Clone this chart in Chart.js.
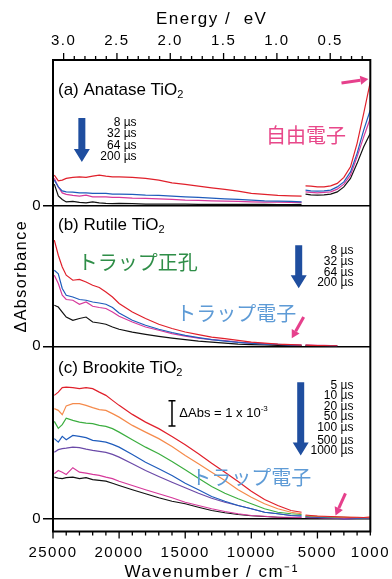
<!DOCTYPE html>
<html>
<head>
<meta charset="utf-8">
<script src="https://cdn.jsdelivr.net/npm/chart.js@4.4.1/dist/chart.umd.min.js"></script>
<style>
  body { margin: 0; background: #fff; }
  #wrap { width: 392px; height: 579px; position: relative; }
</style>
</head>
<body>
<div id="wrap"><canvas id="tasChart"></canvas></div>
<script>
// wavenumber grid, cm-1 (visible detector, then near-IR detector)
const wnVis = [24900, 24600, 24300, 24000, 23500, 23000, 22500, 22000, 21500, 21000, 20500, 20000, 19000, 18000, 17000, 16000, 15000, 14000, 13000, 12000, 11000, 10000, 9000, 8000, 7000, 6200];
const wnIR = [5900, 5500, 5000, 4500, 4000, 3500, 3000, 2500, 2000, 1500, 1000];
const EV = 8065.54; // cm-1 per eV

// ΔAbs x 1e-3
// (a) anatase: 8, 32, 64, 200 us
const anaTimes = ["8 µs", "32 µs", "64 µs", "200 µs"];
const ana8 = [1.24, 1.01, 1.04, 1.11, 1.15, 1.17, 1.15, 1.20, 1.24, 1.20, 1.17, 1.17, 1.15, 1.11, 1.04, 0.93, 0.87, 0.80, 0.73, 0.67, 0.60, 0.51, 0.47, 0.43, 0.41, 0.40];
const ana32 = [1.04, 0.77, 0.61, 0.57, 0.56, 0.53, 0.53, 0.51, 0.51, 0.51, 0.48, 0.48, 0.47, 0.44, 0.43, 0.40, 0.37, 0.35, 0.32, 0.29, 0.27, 0.24, 0.21, 0.20, 0.19, 0.17];
const ana64 = [1.11, 0.77, 0.53, 0.47, 0.43, 0.40, 0.44, 0.37, 0.37, 0.37, 0.35, 0.35, 0.32, 0.31, 0.29, 0.27, 0.24, 0.23, 0.21, 0.20, 0.19, 0.17, 0.16, 0.16, 0.15, 0.15];
const ana200 = [0.88, 0.41, 0.27, 0.17, 0.19, 0.15, 0.13, 0.17, 0.13, 0.11, 0.10, 0.11, 0.10, 0.08, 0.08, 0.08, 0.08, 0.07, 0.07, 0.07, 0.07, 0.07, 0.07, 0.06, 0.06, 0.07];
const ana8IR = [0.81, 0.80, 0.77, 0.77, 0.81, 0.91, 1.15, 1.57, 2.51, 3.71, 4.97];
const ana32IR = [0.64, 0.61, 0.60, 0.61, 0.64, 0.77, 0.97, 1.37, 2.11, 3.04, 3.84];
const ana64IR = [0.57, 0.55, 0.53, 0.55, 0.57, 0.68, 0.88, 1.24, 1.97, 2.77, 3.51];
const ana200IR = [0.48, 0.45, 0.44, 0.45, 0.48, 0.57, 0.77, 1.11, 1.71, 2.37, 2.91];

// (b) rutile: 8, 32, 64, 200 us
const rutTimes = ["8 µs", "32 µs", "64 µs", "200 µs"];
const rut8 = [4.24, 3.64, 3.17, 2.84, 2.64, 2.67, 2.57, 2.44, 2.35, 2.17, 1.97, 1.71, 1.37, 1.11, 0.88, 0.71, 0.57, 0.47, 0.37, 0.31, 0.24, 0.17, 0.13, 0.09, 0.07, 0.05];
const rut32 = [3.04, 2.90, 2.31, 2.04, 1.97, 1.87, 1.84, 1.77, 1.73, 1.68, 1.55, 1.33, 1.04, 0.84, 0.68, 0.55, 0.44, 0.35, 0.27, 0.21, 0.16, 0.12, 0.09, 0.08, 0.05, 0.04];
const rut64 = [2.84, 2.51, 2.04, 1.87, 1.84, 1.68, 1.77, 1.60, 1.55, 1.51, 1.37, 1.20, 0.97, 0.77, 0.64, 0.51, 0.41, 0.33, 0.27, 0.23, 0.17, 0.13, 0.11, 0.08, 0.07, 0.05];
const rut200 = [1.64, 1.57, 1.37, 1.17, 1.04, 1.11, 1.17, 0.97, 0.93, 0.88, 0.77, 0.68, 0.57, 0.48, 0.40, 0.33, 0.27, 0.21, 0.17, 0.13, 0.09, 0.07, 0.06, 0.04, 0.03, 0.03];
const rut8IR = [0.05, 0.04, 0.03, 0.03, 0.02, 0.02, null, null, null, null, null];
const rut32IR = [0.04, 0.03, 0.03, 0.02, 0.02, 0.01, null, null, null, null, null];
const rut64IR = [0.05, 0.05, 0.04, 0.04, 0.03, 0.03, null, null, null, null, null];
const rut200IR = [0.03, 0.02, 0.02, 0.02, 0.01, 0.01, null, null, null, null, null];

// (c) brookite: 5 ... 1000 us
const brkTimes = ["5 µs", "10 µs", "20 µs", "50 µs", "100 µs", "500 µs", "1000 µs"];
const brk5 = [4.92, 5.05, 5.23, 5.25, 5.23, 5.19, 5.23, 5.19, 5.05, 4.92, 4.72, 4.52, 4.16, 3.85, 3.59, 3.28, 2.95, 2.59, 2.21, 1.85, 1.48, 1.09, 0.76, 0.52, 0.32, 0.25];
const brk10 = [4.39, 4.32, 4.15, 4.50, 4.59, 4.59, 4.52, 4.43, 4.35, 4.32, 4.19, 4.05, 3.72, 3.45, 3.19, 2.88, 2.52, 2.19, 1.85, 1.52, 1.15, 0.85, 0.59, 0.39, 0.25, 0.19];
const brk20 = [3.88, 3.60, 3.75, 4.01, 3.92, 3.85, 3.81, 3.79, 3.72, 3.68, 3.59, 3.45, 3.15, 2.85, 2.59, 2.28, 1.95, 1.61, 1.28, 1.01, 0.79, 0.59, 0.39, 0.25, 0.19, 0.16];
const brk50 = [3.19, 3.05, 3.28, 3.15, 3.32, 3.28, 3.23, 3.12, 3.09, 3.05, 2.96, 2.85, 2.56, 2.25, 1.99, 1.72, 1.41, 1.15, 0.88, 0.69, 0.52, 0.39, 0.25, 0.19, 0.12, 0.11];
const brk100 = [2.65, 2.75, 2.79, 2.81, 2.85, 2.83, 2.77, 2.72, 2.68, 2.64, 2.56, 2.45, 2.19, 1.92, 1.68, 1.45, 1.23, 1.01, 0.81, 0.65, 0.52, 0.39, 0.25, 0.19, 0.12, 0.09];
const brk500 = [1.79, 1.92, 1.85, 1.76, 2.03, 1.85, 1.81, 1.76, 1.72, 1.65, 1.59, 1.49, 1.32, 1.15, 0.99, 0.83, 0.65, 0.52, 0.39, 0.28, 0.19, 0.12, 0.09, 0.05, 0.05, 0.04];
const brk1000 = [1.65, 1.61, 1.59, 1.63, 1.65, 1.59, 1.63, 1.55, 1.52, 1.49, 1.41, 1.32, 1.15, 0.99, 0.83, 0.69, 0.59, 0.45, 0.32, 0.23, 0.16, 0.11, 0.08, 0.05, 0.03, 0.01];
const brk5IR = [0.14, 0.12, 0.10, 0.09, 0.08, 0.07, 0.06, 0.05, 0.05, 0.04, 0.06];
const brk10IR = [0.12, 0.10, 0.09, 0.08, 0.07, 0.06, 0.05, 0.05, 0.04, 0.04, 0.05];
const brk20IR = [0.10, 0.09, 0.08, 0.07, 0.06, 0.05, 0.05, 0.04, 0.04, 0.03, 0.04];
const brk50IR = [0.08, 0.07, 0.06, 0.05, 0.05, 0.04, 0.03, 0.03, 0.02, 0.02, 0.03];
const brk100IR = [0.06, 0.05, 0.04, 0.03, 0.02, 0.00, -0.03, -0.02, 0.00, 0.01, 0.02];
const brk500IR = [0.04, 0.03, 0.03, 0.02, 0.02, 0.01, 0.00, 0.01, 0.01, 0.00, 0.01];
const brk1000IR = [0.02, 0.02, 0.01, 0.01, 0.01, 0.00, 0.00, 0.00, 0.00, 0.00, 0.01];

const RED = '#e0202b', ORANGE = '#f58a4b', GREEN = '#3cae40', BLUE = '#1f5cbc',
      PURPLE = '#6b4aa8', MAGENTA = '#d6399b', BLACK = '#111111';
const ARROW_BLUE = '#1f4e9f', PINK = '#e6408c';
const SANS = '"Liberation Sans", Arial, sans-serif';
const JP = '"Noto Sans CJK JP", sans-serif';

Chart.defaults.font.family = SANS;
Chart.defaults.color = '#000';

function series(vis, ir) {
    const pts = wnVis.map((w, i) => ({ x: w, y: vis[i] }));
    pts.push({ x: 6050, y: null }); // detector change: leave a gap
    ir.forEach((v, i) => pts.push({ x: wnIR[i], y: v }));
    return pts;
}

function line(axis, vis, ir, color) {
    return {
        data: series(vis, ir), yAxisID: axis, borderColor: color, borderWidth: 1.2,
        pointRadius: 0, tension: 0, spanGaps: false, fill: false
    };
}

const datasets = [
    line('yA', ana8, ana8IR, RED), line('yA', ana32, ana32IR, BLUE),
    line('yA', ana64, ana64IR, MAGENTA), line('yA', ana200, ana200IR, BLACK),
    line('yB', rut8, rut8IR, RED), line('yB', rut32, rut32IR, BLUE),
    line('yB', rut64, rut64IR, MAGENTA), line('yB', rut200, rut200IR, BLACK),
    line('yC', brk5, brk5IR, RED), line('yC', brk10, brk10IR, ORANGE),
    line('yC', brk20, brk20IR, GREEN), line('yC', brk50, brk50IR, BLUE),
    line('yC', brk100, brk100IR, PURPLE), line('yC', brk500, brk500IR, MAGENTA),
    line('yC', brk1000, brk1000IR, BLACK)
];

function panelAxis(min, max, weight, stackWeight, title) {
    return {
        type: 'linear', position: 'left', stack: 'tas', stackWeight: stackWeight, weight: weight,
        min: min, max: max,
        afterBuildTicks: s => { s.ticks = [{ value: 0 }]; },
        afterFit: s => { s.width = 53; },
        grid: { color: '#000', lineWidth: 1.5, tickLength: 10 },
        border: { display: false },
        ticks: { padding: 1, font: { size: 15 }, callback: v => String(v) },
        title: title ? { display: true, text: title, font: { size: 16 }, padding: { top: 12, bottom: 0 } } : { display: false }
    };
}

// helpers for the drawn notes
function txt(ctx, s, x, y, size, color, align, family) {
    ctx.font = size + 'px ' + (family || SANS);
    ctx.fillStyle = color;
    ctx.textAlign = align || 'left';
    ctx.textBaseline = 'middle';
    ctx.fillText(s, x, y);
    return ctx.measureText(s).width;
}

function downArrow(ctx, x, y1, y2) {
    const sw = 3.5, hw = 8, hl = 13;
    ctx.fillStyle = ARROW_BLUE;
    ctx.beginPath();
    ctx.moveTo(x - sw, y1); ctx.lineTo(x + sw, y1); ctx.lineTo(x + sw, y2 - hl);
    ctx.lineTo(x + hw, y2 - hl); ctx.lineTo(x, y2); ctx.lineTo(x - hw, y2 - hl);
    ctx.lineTo(x - sw, y2 - hl); ctx.closePath(); ctx.fill();
}

function pinkArrow(ctx, x1, y1, x2, y2) {
    const a = Math.atan2(y2 - y1, x2 - x1), hl = 8, hw = 4.5;
    const bx = x2 - hl * Math.cos(a), by = y2 - hl * Math.sin(a);
    ctx.strokeStyle = PINK; ctx.fillStyle = PINK; ctx.lineWidth = 3;
    ctx.beginPath(); ctx.moveTo(x1, y1); ctx.lineTo(bx, by); ctx.stroke();
    ctx.beginPath();
    ctx.moveTo(x2, y2);
    ctx.lineTo(bx + hw * Math.sin(a), by - hw * Math.cos(a));
    ctx.lineTo(bx - hw * Math.sin(a), by + hw * Math.cos(a));
    ctx.closePath(); ctx.fill();
}

const frameAndNotes = {
    id: 'frameAndNotes',
    beforeDraw(chart) { chart.ctx.letterSpacing = '1.5px'; },
    afterDraw(chart) {
        const { ctx, chartArea: ca, scales } = chart;
        const X = wn => scales.x.getPixelForValue(wn);
        const Y = (id, v) => scales[id].getPixelForValue(v);
        ctx.save();
        ctx.letterSpacing = '0px';
        ctx.strokeStyle = '#000';
        ctx.lineWidth = 1.3;
        // minor / major tick marks
        scales.x.ticks.forEach(t => {
            const px = X(t.value), len = t.value % 5000 === 0 ? 7 : 4;
            ctx.beginPath(); ctx.moveTo(px, ca.bottom); ctx.lineTo(px, ca.bottom + len); ctx.stroke();
        });
        scales.x2.ticks.forEach(t => {
            const px = scales.x2.getPixelForValue(t.value);
            const major = Math.abs(t.value * 2 - Math.round(t.value * 2)) < 1e-6;
            const len = major ? 7 : 4;
            ctx.beginPath(); ctx.moveTo(px, ca.top); ctx.lineTo(px, ca.top - len); ctx.stroke();
        });
        ctx.lineWidth = 2;
        ctx.strokeRect(ca.left, ca.top, ca.right - ca.left, ca.bottom - ca.top);

        // panel names
        const names = [['yA', '(a) Anatase TiO', 4.64], ['yB', '(b) Rutile TiO', 4.84], ['yC', '(c) Brookite TiO', 6.0]];
        names.forEach(([id, s, v]) => {
            const x = X(24624), y = Y(id, v);
            const w = txt(ctx, s, x, y, 17, '#000');
            txt(ctx, '2', x + w, y + 5, 11, '#000');
        });

        // time labels
        anaTimes.forEach((s, i) => txt(ctx, s, X(18680), Y('yA', [3.33, 2.88, 2.41, 1.97][i]), 12, '#000', 'right'));
        rutTimes.forEach((s, i) => txt(ctx, s, X(2278), Y('yB', [3.81, 3.37, 2.95, 2.53][i]), 12, '#000', 'right'));
        brkTimes.forEach((s, i) => txt(ctx, s, X(2278), Y('yC', [5.32, 4.89, 4.48, 4.05, 3.64, 3.12, 2.72][i]), 12, '#000', 'right'));

        downArrow(ctx, X(22818), Y('yA', 3.52), Y('yA', 1.76));
        downArrow(ctx, X(6416), Y('yB', 4.04), Y('yB', 2.32));
        downArrow(ctx, X(6265), Y('yC', 5.44), Y('yC', 2.52));

        pinkArrow(ctx, X(3180), Y('yA', 4.92), X(1148), Y('yA', 5.08));
        pinkArrow(ctx, X(6040), Y('yB', 1.17), X(6942), Y('yB', 0.32));
        pinkArrow(ctx, X(2880), Y('yC', 1.0), X(3632), Y('yC', 0.12));

        // Japanese notes
        txt(ctx, '自由電子', X(8899), Y('yA', 2.84), 20, '#e8488a', 'left', JP);
        txt(ctx, 'トラップ正孔', X(23119), Y('yB', 3.36), 20, '#2f8e48', 'left', JP);
        txt(ctx, 'トラップ電子', X(15670), Y('yB', 1.32), 20, '#5e9bd6', 'left', JP);
        txt(ctx, 'トラップ電子', X(14542), Y('yC', 1.64), 20, '#5e9bd6', 'left', JP);

        // scale bar
        const bx = X(16000), b1 = Y('yC', 3.7), b2 = Y('yC', 4.7);
        ctx.strokeStyle = '#000'; ctx.lineWidth = 1.5;
        ctx.beginPath();
        ctx.moveTo(bx, b1); ctx.lineTo(bx, b2);
        ctx.moveTo(bx - 3.5, b1); ctx.lineTo(bx + 3.5, b1);
        ctx.moveTo(bx - 3.5, b2); ctx.lineTo(bx + 3.5, b2);
        ctx.stroke();
        const tx = X(15445), ty = Y('yC', 4.2);
        const w = txt(ctx, 'ΔAbs = 1 x 10', tx, ty, 13, '#000');
        txt(ctx, '-3', tx + w, ty - 5, 8, '#000');
        ctx.restore();
    }
};

new Chart(document.getElementById('tasChart'), {
    type: 'line',
    data: { datasets: datasets },
    options: {
        responsive: true,
        maintainAspectRatio: false,
        animation: false,
        layout: { padding: { left: 0, right: 20, top: 0, bottom: 0 } },
        plugins: { legend: { display: false }, tooltip: { enabled: false } },
        scales: {
            x: {
                type: 'linear', position: 'bottom', min: 1000, max: 25000, reverse: true,
                afterFit: s => { s.height = 47.5; },
                grid: { display: false, drawTicks: true, tickLength: 7 },
                border: { display: false },
                ticks: {
                    stepSize: 1000, autoSkip: false, maxRotation: 0, padding: 5, font: { size: 15 },
                    callback: v => (v % 5000 === 0 || v === 1000) ? String(v) : ''
                },
                title: { display: true, text: 'Wavenumber / cm⁻¹', font: { size: 17, lineHeight: 0.8 }, padding: 0 }
            },
            x2: {
                type: 'linear', position: 'top', min: 1000 / EV, max: 25000 / EV, reverse: true,
                afterFit: s => { s.height = 60; },
                grid: { display: false, drawTicks: true, tickLength: 7 },
                border: { display: false },
                ticks: {
                    stepSize: 0.1, includeBounds: false, autoSkip: false, maxRotation: 0, padding: 3, font: { size: 15 },
                    callback: v => Math.abs(v * 2 - Math.round(v * 2)) < 1e-6 ? v.toFixed(1) : ''
                },
                title: { display: true, text: 'Energy /  eV', font: { size: 17 }, padding: { top: 9, bottom: 0 } }
            },
            yC: panelAxis(-0.52, 6.88, 1, 185),
            yB: panelAxis(0, 5.6, 2, 140, 'ΔAbsorbance'),
            yA: panelAxis(0, 5.84, 3, 146)
        }
    },
    plugins: [frameAndNotes]
});
</script>
</body>
</html>
